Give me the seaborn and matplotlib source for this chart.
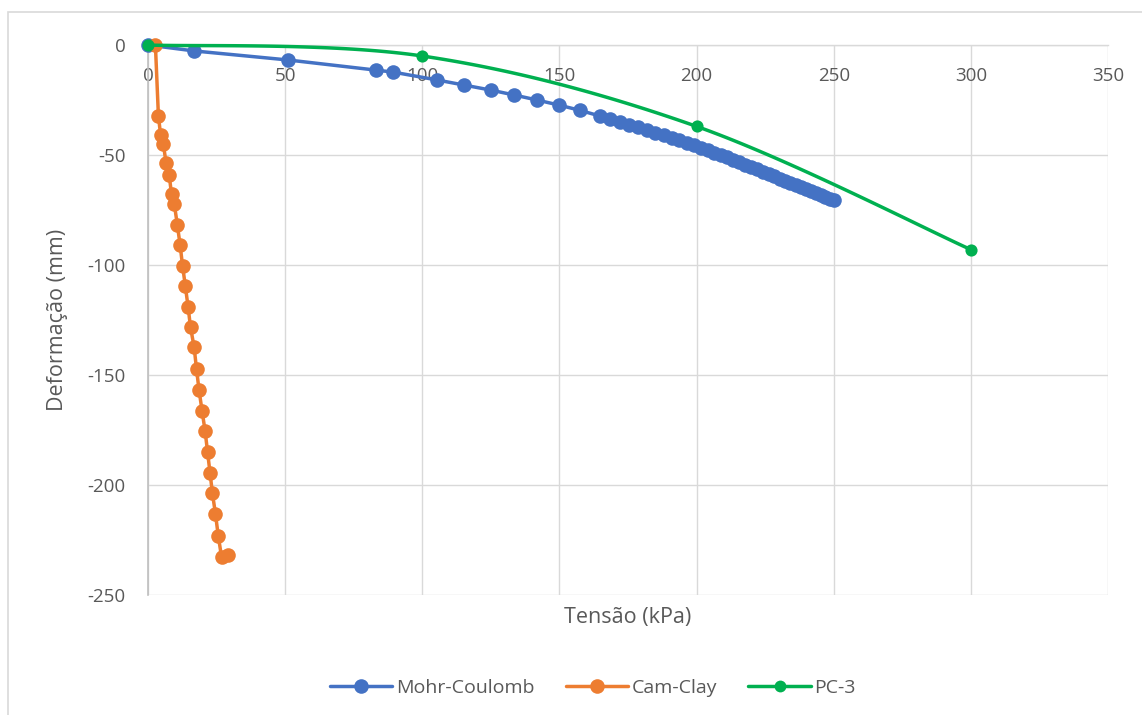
import numpy as np
import pandas as pd
import matplotlib
matplotlib.use("Agg")
import matplotlib.pyplot as plt
from matplotlib.lines import Line2D
from matplotlib.patches import Rectangle
import seaborn as sns

# ---- data ----
mc_x = [0, 16.8, 51.0, 83.0, 89.3, 105.4, 115.2, 125.0, 133.4, 141.8, 149.8, 157.5,
        164.8, 168.5, 172.0, 175.4, 178.7, 181.9, 185.0, 188.0, 190.9, 193.7, 196.4,
        199.0, 201.5, 204.0, 206.4, 208.8, 211.1, 213.4, 215.6, 217.8, 220.0, 222.1,
        224.2, 226.3, 228.3, 230.3, 232.3, 234.2, 236.1, 238.0, 239.9, 241.7, 243.5,
        245.3, 247.0, 248.6, 250.0]
mc_y = [0, -2.7, -6.8, -11.4, -12.3, -15.9, -18.2, -20.5, -22.7, -25.0, -27.3, -29.7,
        -32.3, -33.6, -34.9, -36.2, -37.4, -38.6, -39.8, -41.0, -42.2, -43.4, -44.5,
        -45.6, -46.7, -47.8, -48.9, -50.0, -51.1, -52.2, -53.3, -54.4, -55.5, -56.5,
        -57.6, -58.7, -59.7, -60.7, -61.7, -62.7, -63.6, -64.6, -65.5, -66.4, -67.3,
        -68.2, -69.0, -69.8, -70.5]

cc_x = [2.7, 3.8, 4.6, 5.6, 6.6, 7.7, 8.6, 9.6, 10.7, 11.7, 12.6, 13.6, 14.6, 15.5,
        16.8, 17.7, 18.6, 19.7, 20.8, 21.7, 22.6, 23.5, 24.6, 25.6, 26.8, 29.2]
cc_y = [0, -32.3, -40.9, -45.0, -53.8, -59.1, -67.9, -72.4, -81.8, -90.9, -100.3,
        -109.5, -118.9, -128.3, -137.2, -147.4, -156.8, -166.2, -175.3, -184.8, -194.4,
        -203.8, -213.2, -223.0, -232.6, -231.8]

pc_x = [0, 100, 200, 300]
pc_y = [0, -5, -37, -93]

series_names = ["Mohr-Coulomb", "Cam-Clay", "PC-3"]
colors = ["#4472C4", "#ED7D31", "#00B050"]
x_ticks = [0, 50, 100, 150, 200, 250, 300, 350]
y_ticks = [0, -50, -100, -150, -200, -250]
x_label = "Tensão (kPa)"
y_label = "Deformação (mm)"

# ---- style ----
sns.set_theme(style="white")
plt.rcParams["font.family"] = ["Open Sans", "DejaVu Sans"]
text_color = "#595959"
grid_color = "#D9D9D9"

W, H = 1142, 715
fig = plt.figure(figsize=(W / 100, H / 100), dpi=100)
ax = fig.add_axes([148 / W, 1 - 595 / H, (1108 - 148) / W, (595 - 45) / H])

lw = 2.5
ms = 10.5

df_mc = pd.DataFrame({"x": mc_x, "y": mc_y})
df_cc = pd.DataFrame({"x": cc_x, "y": cc_y})
df_pc = pd.DataFrame({"x": pc_x, "y": pc_y})

sns.lineplot(data=df_mc, x="x", y="y", sort=False, ax=ax, color=colors[0], lw=lw,
             marker="o", markersize=ms, markeredgewidth=0, zorder=3, clip_on=False)
sns.lineplot(data=df_cc, x="x", y="y", sort=False, ax=ax, color=colors[1], lw=lw,
             marker="o", markersize=ms, markeredgewidth=0, zorder=4, clip_on=False)


# smoothed line (Excel-like Catmull-Rom Bezier) through the PC-3 points
def smooth(xs, ys, n=40):
    P = np.column_stack([xs, ys]).astype(float)
    P_ext = np.vstack([P[0], P, P[-1]])
    out = []
    for i in range(len(P) - 1):
        p0, p1, p2, p3 = P_ext[i], P_ext[i + 1], P_ext[i + 2], P_ext[i + 3]
        c1 = p1 + (p2 - p0) / 6
        c2 = p2 - (p3 - p1) / 6
        t = np.linspace(0, 1, n)[:, None]
        seg = ((1 - t) ** 3) * p1 + 3 * ((1 - t) ** 2) * t * c1 + 3 * (1 - t) * t ** 2 * c2 + t ** 3 * p2
        out.append(seg if i == 0 else seg[1:])
    return np.vstack(out)


curve = smooth(pc_x, pc_y)
ax.plot(curve[:, 0], curve[:, 1], color=colors[2], lw=lw, zorder=5, clip_on=False)
sns.scatterplot(data=df_pc, x="x", y="y", ax=ax, color=colors[2], s=9.5 ** 2 * 0.85,
                linewidth=0, zorder=6, clip_on=False)

ax.set_xlim(0, 350)
ax.set_ylim(-250, 0)
ax.set_xticks(x_ticks)
ax.set_yticks(y_ticks)
ax.set_xticklabels([str(v) for v in x_ticks])
ax.set_yticklabels([str(v) for v in y_ticks])
ax.grid(True, color=grid_color, lw=1)
ax.set_axisbelow(True)

for s in ["top", "right"]:
    ax.spines[s].set_visible(False)
ax.spines["bottom"].set_position(("data", 0))
ax.spines["bottom"].set_color(grid_color)
ax.spines["bottom"].set_linewidth(1)
ax.spines["left"].set_color("#BFBFBF")
ax.spines["left"].set_linewidth(1.2)

ax.tick_params(axis="both", length=0, labelsize=13.5, labelcolor=text_color)
ax.tick_params(axis="x", pad=16)
ax.tick_params(axis="y", pad=16)

ax.set_xlabel("")
ax.set_ylabel("")
fig.text(628 / W, 1 - 618 / H, x_label, ha="center", va="center", fontsize=15.5, color=text_color)
fig.text(58 / W, 1 - 320 / H, y_label, ha="center", va="center", rotation=90, fontsize=15.5,
         color=text_color)

handles = [Line2D([0], [0], color=c, lw=lw, marker="o", markersize=ms if i < 2 else 8.5,
                  markeredgewidth=0) for i, c in enumerate(colors)]
leg = fig.legend(handles, series_names, loc="center", bbox_to_anchor=(593 / W, 1 - 688 / H),
                 ncol=3, frameon=False, fontsize=14, handlelength=3.2, columnspacing=1.6,
                 handletextpad=0.2)
for t in leg.get_texts():
    t.set_color(text_color)

# outer chart-area border
fig.patches.append(Rectangle((8 / W, -0.05), 1.1, 1 - 12 / H + 0.05, transform=fig.transFigure,
                             fill=False, edgecolor="#D9D9D9", lw=1.2, zorder=0))

fig.savefig("out.png", dpi=100)
